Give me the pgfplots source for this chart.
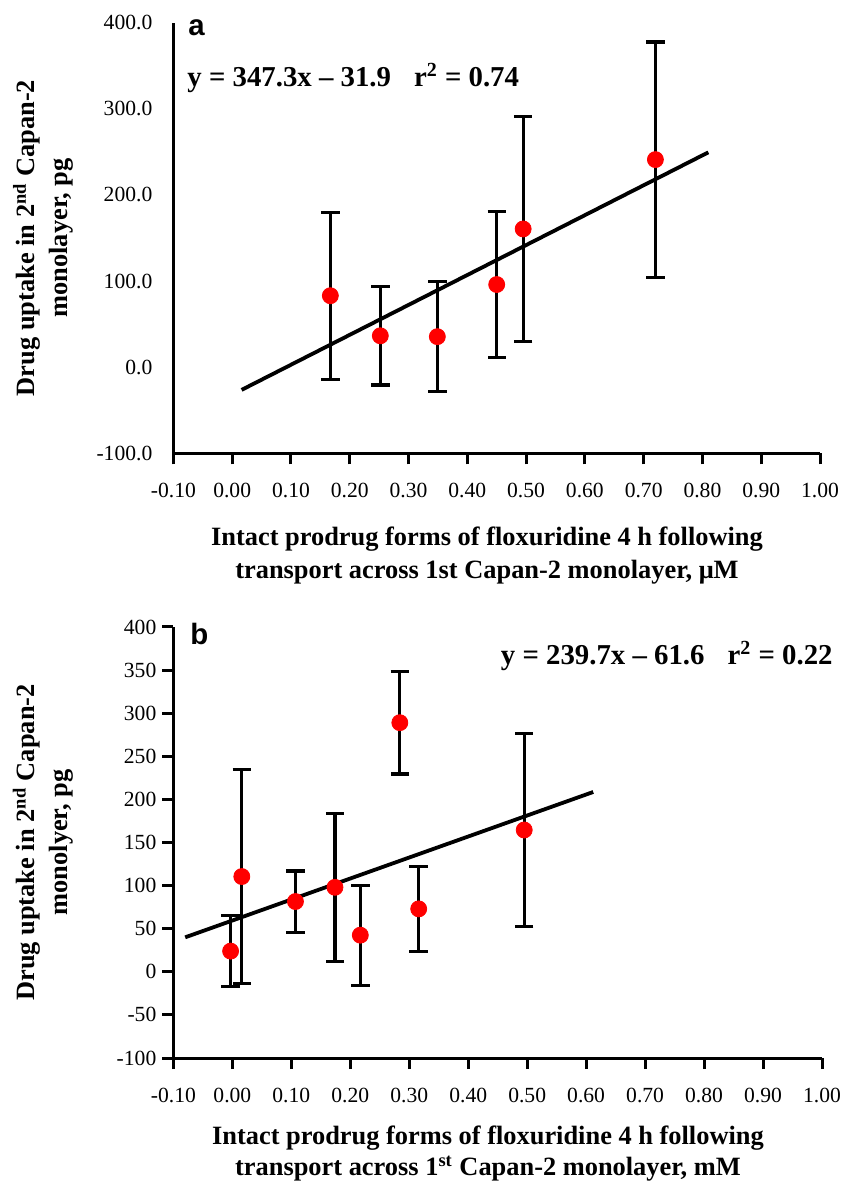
\documentclass[border=0pt]{standalone}
\usepackage{fontspec}
\setmainfont{Liberation Serif}
\newfontfamily\panelfont{Liberation Sans}
\usepackage{pgfplots}
\pgfplotsset{compat=1.18}

\pgfplotsset{
  uptake/.style={
    scale only axis,
    axis lines=left,
    axis line style={-, line width=1.5pt, black},
    xmin=-0.1, xmax=1.0,
    ymin=-100, ymax=400,
    clip=false,
    tick align=outside,
    major tick length=5.5pt,
    tick style={line width=1.5pt, black},
    xtick={-0.1,0,0.1,0.2,0.3,0.4,0.5,0.6,0.7,0.8,0.9,1.0},
    xticklabels={-0.10,0.00,0.10,0.20,0.30,0.40,0.50,0.60,0.70,0.80,0.90,1.00},
    tick label style={font=\fontsize{10.8}{12}\selectfont},
    xticklabel style={yshift=-6pt},
    label style={font=\fontsize{13.2}{16.5}\selectfont\bfseries, align=center, inner sep=0pt},
    xlabel style={at={(axis description cs:0.485,0)}, anchor=north, yshift=-36.5pt},
    ylabel style={at={(axis description cs:-0.154,0.5)}, anchor=south},
  },
  dots/.style={
    only marks, mark=*, mark size=4pt,
    mark options={draw=red, fill=red},
    error bars/.cd, y dir=both, y explicit,
    error bar style={line width=1.6pt, black},
    error mark options={rotate=90, line width=1.6pt, black, mark size=4.6pt},
  },
}

\begin{document}
\begin{tikzpicture}
\useasboundingbox (0pt,0pt) rectangle (426pt,592pt);

% panel a
\begin{axis}[uptake,
  at={(86.7pt,365.3pt)}, anchor=south west,
  width=323.3pt, height=215.4pt,
  ytick={-100,0,100,200,300,400},
  yticklabels={-100.0,0.0,100.0,200.0,300.0,400.0},
  ytick style={draw=none},
  yticklabel style={xshift=-1.5pt},
  xlabel={Intact prodrug forms of floxuridine 4 h following\\transport across 1st Capan-2 monolayer, μM},
  ylabel={Drug uptake in 2\textsuperscript{nd} Capan-2\\monolayer, pg},
]
\addplot[line width=1.9pt, black] coordinates {(0.016,-26.3) (0.81,249.4)};
\addplot[dots] coordinates {
  (0.167,83.0) +- (0,97.0)
  (0.252,36.5) +- (0,57.0)
  (0.349,35.5) +- (0,64.0)
  (0.450,96.0) +- (0,84.5)
  (0.495,160.5) +- (0,130.5)
  (0.720,241.0) +- (0,136.5)
};
\end{axis}

% panel b
\begin{axis}[uptake,
  at={(86.7pt,63pt)}, anchor=south west,
  width=324.3pt, height=215.5pt,
  ytick={-100,-50,0,50,100,150,200,250,300,350,400},
  yticklabels={-100,-50,0,50,100,150,200,250,300,350,400},
  yticklabel style={xshift=0.5pt},
  xlabel style={yshift=2.5pt, font=\fontsize{13.2}{15.3}\selectfont\bfseries},
  xlabel={Intact prodrug forms of floxuridine 4 h following\\transport across 1\textsuperscript{st} Capan-2 monolayer, mM},
  ylabel={Drug uptake in 2\textsuperscript{nd} Capan-2\\monolyer, pg},
]
\addplot[line width=1.9pt, black] coordinates {(-0.080,40.0) (0.612,208.6)};
\addplot[dots] coordinates {
  (-0.003,24.0) +- (0,41.5)
  (0.016,110.5) +- (0,124.0)
  (0.107,81.5) +- (0,35.5)
  (0.174,98.0) +- (0,86.0)
  (0.217,42.5) +- (0,58.0)
  (0.284,289.0) +- (0,59.5)
  (0.316,73.0) +- (0,49.5)
  (0.495,164.5) +- (0,112.0)
};
\end{axis}

\node[anchor=base west, inner sep=0, font=\panelfont\bfseries\fontsize{14.7}{16}\selectfont] at (94pt,574pt) {a};
\node[anchor=base west, inner sep=0, font=\panelfont\bfseries\fontsize{14.7}{16}\selectfont] at (95pt,269.5pt) {b};
\node[anchor=base west, inner sep=0, font=\bfseries\fontsize{14.4}{16}\selectfont] at (93.5pt,548.5pt)
  {y = 347.3x – 31.9\hspace{0.8em}r\textsuperscript{2} = 0.74};
\node[anchor=base east, inner sep=0, font=\bfseries\fontsize{14.4}{16}\selectfont] at (416.5pt,259.5pt)
  {y = 239.7x – 61.6\hspace{0.8em}r\textsuperscript{2} = 0.22};
\end{tikzpicture}
\end{document}
